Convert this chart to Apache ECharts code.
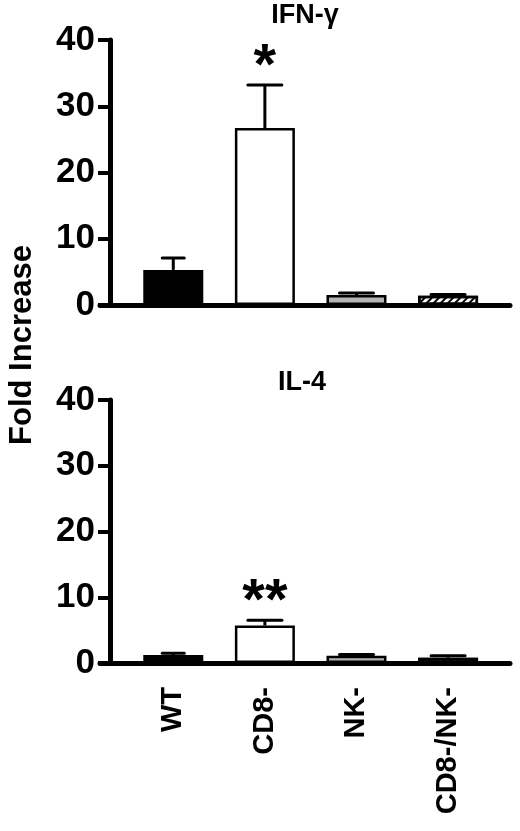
<!DOCTYPE html>
<html>
<head>
<meta charset="utf-8">
<script src="https://cdn.jsdelivr.net/npm/echarts@6/dist/echarts.min.js"></script>
<style>html,body{margin:0;padding:0;background:#fff}#c{width:520px;height:831px}</style>
</head>
<body>
<div id="c"></div>
<script>
// ---- data ----
const categories = ['WT', 'CD8-', 'NK-', 'CD8-/NK-'];
const ifnValues = [5.3, 26.7, 1.5, 1.4];
const ifnErrTop = [7.1, 33.2, 1.8, 1.6];
const ifnSig = ['', '*', '', ''];
const il4Values = [1.2, 5.7, 1.1, 0.8];
const il4ErrTop = [1.5, 6.5, 1.3, 1.1];
const il4Sig = ['', '**', '', ''];
const yTicks = [0, 10, 20, 30, 40];
const panelTitles = ['IFN-\u03b3', 'IL-4'];
const yAxisTitle = 'Fold Increase';

// ---- styles ----
const FONT = '"Liberation Sans", Arial, Helvetica, sans-serif';
const fills = ['#000000', '#ffffff', '#b4b4b4', '#ffffff'];
const capWidths = [22, 34, 34, 34];

function barData(vals) {
  return vals.map((v, i) => {
    const item = { value: [i, v], itemStyle: { color: fills[i], borderColor: '#000', borderWidth: 2.5 } };
    if (i === 3) {
      item.itemStyle.decal = { symbol: 'rect', symbolSize: 1, dashArrayX: [1, 0], dashArrayY: [2, 3], rotation: -Math.PI / 4, color: '#000' };
    }
    return item;
  });
}
function errData(vals, tops, sig) {
  return vals.map((v, i) => [i, v, tops[i], sig[i]]);
}
const sigLists = { 1: ifnSig, 3: il4Sig };
function renderErr(params, api) {
  const i = api.value(0);
  const base = api.coord([i, api.value(1)]);
  const top = api.coord([i, api.value(2)]);
  const sig = sigLists[params.seriesIndex][i];
  const cw = capWidths[i] / 2;
  const children = [
    { type: 'line', shape: { x1: base[0], y1: base[1], x2: top[0], y2: top[1] }, style: { stroke: '#000', lineWidth: 3 } },
    { type: 'line', shape: { x1: top[0] - cw, y1: top[1], x2: top[0] + cw, y2: top[1] }, style: { stroke: '#000', lineWidth: 3, lineCap: 'round' } }
  ];
  if (sig) {
    children.push({ type: 'text', x: top[0], y: top[1] + 12, style: { text: sig, font: 'bold 58px ' + FONT, fill: '#000', align: 'center', verticalAlign: 'bottom' } });
  }
  return { type: 'group', children };
}

const xCommon = {
  type: 'value', min: -0.8, max: 3.676,
  splitLine: { show: false },
  axisTick: { show: false },
  axisLine: { show: true, onZero: false, lineStyle: { color: '#000', width: 5, cap: 'round' } }
};
const yCommon = {
  type: 'value', min: 0, max: 40, interval: 10, offset: -10,
  splitLine: { show: false },
  axisLine: { show: true, onZero: false, lineStyle: { color: '#000', width: 5 } },
  axisTick: { show: true, length: 12, lineStyle: { color: '#000', width: 4 } },
  axisLabel: { color: '#000', fontSize: 35, fontWeight: 'bold', fontFamily: FONT, margin: 15, customValues: yTicks }
};

const option = {
  animation: false,
  backgroundColor: '#fff',
  grid: [
    { left: 100, right: 10, top: 40, height: 265 },
    { left: 100, right: 10, top: 400, height: 263 }
  ],
  xAxis: [
    Object.assign({}, xCommon, { gridIndex: 0, axisLabel: { show: false } }),
    Object.assign({}, xCommon, { gridIndex: 1, axisLabel: { show: true, customValues: [0, 1, 2, 3], rotate: 90, margin: 24, color: '#000', fontSize: 29, fontWeight: 'bold', fontFamily: FONT, formatter: v => categories[Math.round(v)] } })
  ],
  yAxis: [
    Object.assign({}, yCommon, { gridIndex: 0 }),
    Object.assign({}, yCommon, { gridIndex: 1 })
  ],
  graphic: [
    { type: 'text', x: 305, y: 16, style: { text: panelTitles[0], font: 'bold 27px ' + FONT, fill: '#000', align: 'center', verticalAlign: 'middle' } },
    { type: 'text', x: 302, y: 383, style: { text: panelTitles[1], font: 'bold 27px ' + FONT, fill: '#000', align: 'center', verticalAlign: 'middle' } },
    { type: 'text', x: 22, y: 345, rotation: Math.PI / 2, style: { text: yAxisTitle, font: 'bold 31px ' + FONT, fill: '#000', align: 'center', verticalAlign: 'middle' } }
  ],
  series: [
    { type: 'bar', xAxisIndex: 0, yAxisIndex: 0, barWidth: 60, data: barData(ifnValues), z: 2 },
    { type: 'custom', xAxisIndex: 0, yAxisIndex: 0, renderItem: renderErr, data: errData(ifnValues, ifnErrTop, ifnSig), z: 1 },
    { type: 'bar', xAxisIndex: 1, yAxisIndex: 1, barWidth: 60, data: barData(il4Values), z: 2 },
    { type: 'custom', xAxisIndex: 1, yAxisIndex: 1, renderItem: renderErr, data: errData(il4Values, il4ErrTop, il4Sig), z: 1 }
  ]
};
const chart = echarts.init(document.getElementById('c'), null, { renderer: 'canvas' });
chart.setOption(option);
</script>
</body>
</html>
